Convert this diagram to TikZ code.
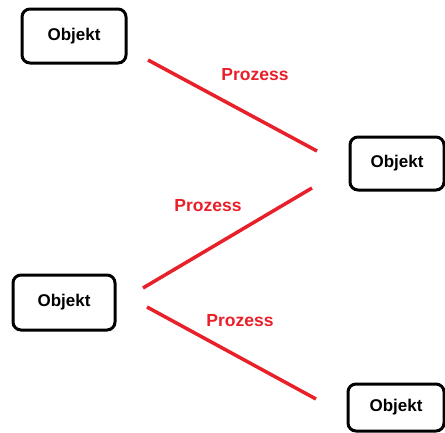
\documentclass[tikz,border=0pt]{standalone}
\usepackage{fontspec}
\setmainfont{Liberation Sans}
\definecolor{procred}{HTML}{E8202A}
\begin{document}
\begin{tikzpicture}[x=1pt,y=-1pt,
  objbox/.style={draw=black, line width=3pt, rounded corners=8pt, fill=white,
    inner sep=0pt, font=\fontsize{17}{19}\selectfont\bfseries},
  proc/.style={draw=procred, line width=3.5pt},
  proclabel/.style={text=procred, font=\fontsize{17.5}{20}\selectfont\bfseries}]
\useasboundingbox (0,0) rectangle (445,432);
\node[objbox, minimum width=104pt, minimum height=54pt] (o1) at (74,36) {Objekt};
\node[objbox, minimum width=94pt, minimum height=53pt] (o2) at (397,163.5) {Objekt};
\node[objbox, minimum width=102pt, minimum height=55pt] (o3) at (64,302.5) {Objekt};
\node[objbox, minimum width=96pt, minimum height=47pt] (o4) at (396,407.5) {Objekt};
\coordinate (a1) at (148,60);
\coordinate (b1) at (317,151);
\coordinate (a2) at (143,288);
\coordinate (b2) at (312,188);
\coordinate (a3) at (147,307);
\coordinate (b3) at (316,399);
\draw[proc] (a1) -- (b1);
\draw[proc] (a2) -- (b2);
\draw[proc] (a3) -- (b3);
\node[proclabel] (p1) at (255,75) {Prozess};
\node[proclabel] (p2) at (208,206) {Prozess};
\node[proclabel] (p3) at (240,321) {Prozess};
\end{tikzpicture}
\end{document}
